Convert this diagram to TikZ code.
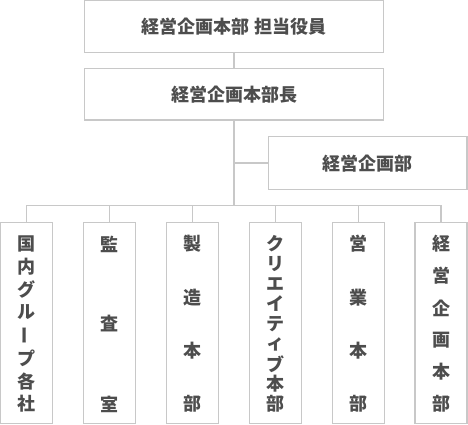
\documentclass[tikz,border=0pt]{standalone}
\usepackage{fontspec}
\setmainfont{Noto Sans CJK JP}
\usepackage{graphicx}
\definecolor{linegray}{HTML}{C8C8C8}
\definecolor{txtgray}{HTML}{4D4D4D}
\newcommand\vbar{\rotatebox[origin=c]{90}{ー}}
\begin{document}
\begin{tikzpicture}[x=0.75pt,y=-0.75pt,
  box/.style={draw=linegray, line width=1.1pt, inner sep=0pt, text=txtgray,
    font=\fontsize{13.5pt}{16pt}\selectfont\bfseries},
  chr/.style={inner sep=0pt, text=txtgray, font=\fontsize{13.5pt}{16pt}\selectfont\bfseries},
  conn/.style={draw=linegray, line width=1.1pt}]
\useasboundingbox (0,0) rectangle (468,425);
% top boxes
\node[box, minimum width=224.25pt, minimum height=38.7pt] (exec) at (234,26.5) {経営企画本部 担当役員};
\node[box, minimum width=224.25pt, minimum height=38.5pt] (head) at (234,94.3) {経営企画本部長};
\node[box, minimum width=148.7pt, minimum height=39.7pt] (plan) at (367.8,163.2) {経営企画部};
\coordinate (bar) at (234,205.5);
% bottom boxes
\foreach \i/\n/\txt in {
  0/8/{国,内,グ,ル,\vbar,プ,各,社},
  1/3/{監,査,室},
  2/4/{製,造,本,部},
  3/9/{ク,リ,エ,イ,テ,ィ,ブ,本,部},
  4/4/{営,業,本,部},
  5/6/{経,営,企,画,本,部}}{
  \pgfmathsetmacro\xx{26.7+82.9*\i}
  \node[box, minimum width=39pt, minimum height=151pt] (b\i) at (\xx,323) {};
  \foreach \c [count=\k] in \txt {
    \node[chr] (c\i-\k) at (\xx,{244+160*(\k-1)/(\n-1)}) {\c};
  }
}
% connectors
\draw[conn] (exec.south) -- (head.north);
\draw[conn] (head.south) -- (bar);
\draw[conn] (plan.west) -- (plan.west -| head.south);
\draw[conn] (b0.north) -- (b0.north |- bar) -- (b5.north |- bar) -- (b5.north);
\foreach \i in {1,...,4}{
  \draw[conn] (b\i.north) -- (b\i.north |- bar);
}
\end{tikzpicture}
\end{document}
